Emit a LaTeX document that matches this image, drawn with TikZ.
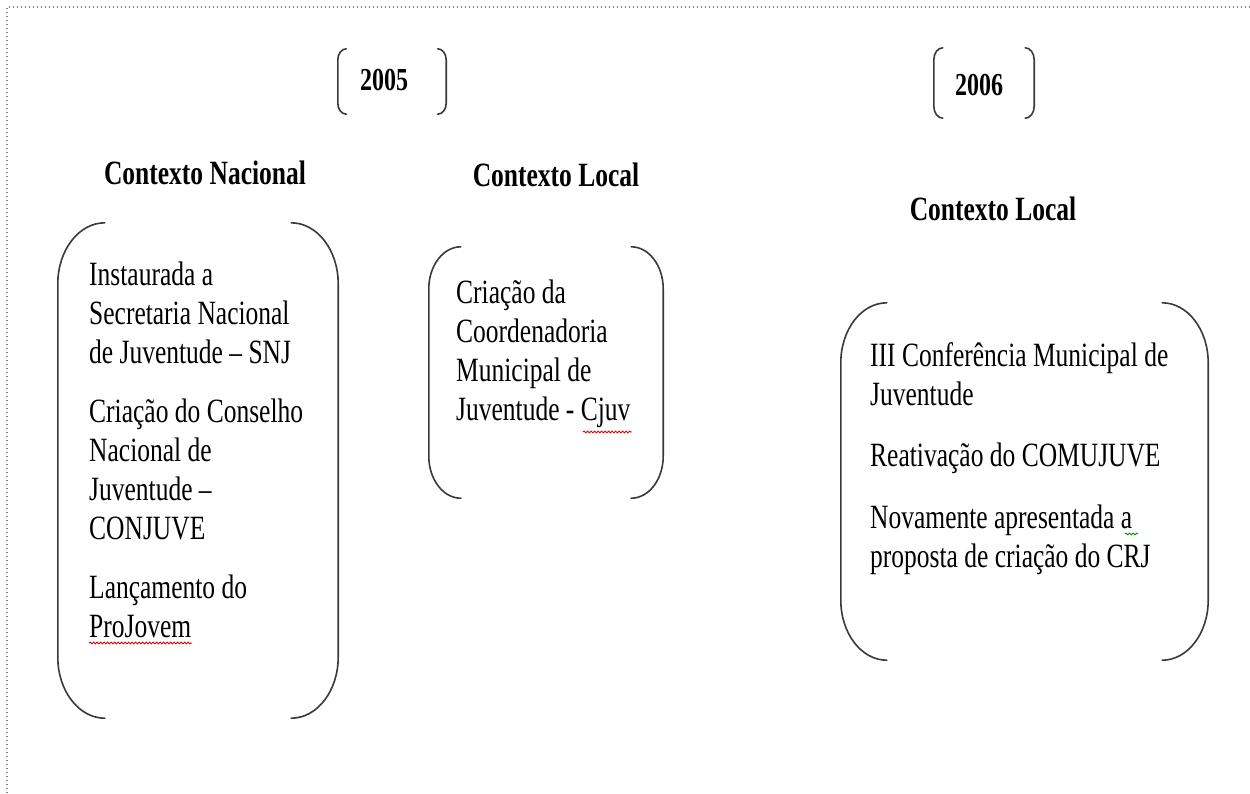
\documentclass[tikz,border=0pt]{standalone}
\usepackage{fontspec}
\setmainfont{Liberation Serif}[FakeStretch=0.75]
\usetikzlibrary{calc,decorations.pathmorphing}
\definecolor{brkcol}{HTML}{3A3A3A}
\newcommand\bodyfont{\fontsize{34}{39}\selectfont}
\newcommand\headfont{\fontsize{34}{39}\selectfont\bfseries}
\newcommand\yearfont{\fontsize{32}{36}\selectfont\bfseries}
\newcommand\brk[3]{%
  \draw[brkline] ($(#1.north west)+(#2,0)$) .. controls ($(#1.north west)+(0.448*#2,0)$) and ($(#1.north west)+(0,0.448*#3)$) .. ($(#1.north west)+(0,#3)$)
    -- ($(#1.south west)+(0,-#3)$) .. controls ($(#1.south west)+(0,-0.448*#3)$) and ($(#1.south west)+(0.448*#2,0)$) .. ($(#1.south west)+(#2,0)$);
  \draw[brkline] ($(#1.north east)+(-#2,0)$) .. controls ($(#1.north east)+(-0.448*#2,0)$) and ($(#1.north east)+(0,0.448*#3)$) .. ($(#1.north east)+(0,#3)$)
    -- ($(#1.south east)+(0,-#3)$) .. controls ($(#1.south east)+(0,-0.448*#3)$) and ($(#1.south east)+(-0.448*#2,0)$) .. ($(#1.south east)+(-#2,0)$);
}
\tikzset{
  brkline/.style={draw=brkcol, line width=1.6pt, line cap=round},
  brbox/.style={draw=none, inner sep=0pt, rectangle},
  body/.style={anchor=north west, inner sep=0pt, align=left, font=\bodyfont},
  heading/.style={anchor=base, inner sep=0pt, font=\headfont},
  year/.style={anchor=base, inner sep=0pt, font=\yearfont},
  border/.style={draw=gray, line width=1.3pt, dash pattern=on 1.3pt off 2.7pt},
  spell/.style={decorate, decoration={snake, amplitude=0.9pt, segment length=3.5pt}, line width=0.9pt},
}
\begin{document}
\begin{tikzpicture}[x=1pt,y=-1pt]
\useasboundingbox (0,0) rectangle (1250,793);
\fill[white] (0,0) rectangle (1250,793);
% dotted frame (top and left)
\coordinate (fTL) at (7,7);
\coordinate (fTR) at (1250,7);
\coordinate (fBL) at (7,793);
\draw[border] (fTR) -- (fTL) -- (fBL);

% years
\node[brbox, minimum width=108pt, minimum height=65pt] (b2005) at (392,81.5) {};
\brk{b2005}{8.5}{11}
\node[year] (y2005) at (384,90) {2005};
\node[brbox, minimum width=100pt, minimum height=70pt] (b2006) at (984,83) {};
\brk{b2006}{9}{12}
\node[year] (y2006) at (979,95) {2006};

% headings
\node[heading] (hNac) at (205,184) {Contexto Nacional};
\node[heading] (hLoc1) at (556,186) {Contexto Local};
\node[heading] (hLoc2) at (993,220) {Contexto Local};

% box 1
\node[brbox, minimum width=280pt, minimum height=495pt] (box1) at (198,470.5) {};
\brk{box1}{47}{61}
\node[body] (p1a) at (89,257.7) {\strut Instaurada a\\\strut Secretaria Nacional\\\strut de Juventude – SNJ};
\node[body] (p1b) at (89,394.7) {\strut Criação do Conselho\\\strut Nacional de\\\strut Juventude –\\\strut CONJUVE};
\node[body] (p1c) at (89,570.7) {\strut Lançamento do\\\strut ProJovem};

% box 2
\node[brbox, minimum width=234pt, minimum height=251pt] (box2) at (546,372.5) {};
\brk{box2}{32}{42}
\node[body] (p2) at (456,275.7) {\strut Criação da\\\strut Coordenadoria\\\strut Municipal de\\\strut Juventude - Cjuv};

% box 3
\node[brbox, minimum width=367pt, minimum height=357pt] (box3) at (1024.5,481.5) {};
\brk{box3}{46}{60}
\node[body] (p3a) at (870,338.7) {\strut III Conferência Municipal de\\\strut Juventude};
\node[body] (p3b) at (870,438.7) {\strut Reativação do COMUJUVE};
\node[body] (p3c) at (870,500.7) {\strut Novamente apresentada a\\\strut proposta de criação do CRJ};

% spell-check underlines
\draw[spell, red!85!black] (89,643) -- (192,643);
\draw[spell, red!85!black] (583,432) -- (632,432);
\draw[spell, green!55!black] (1125,534) -- (1138,534);
\end{tikzpicture}
\end{document}
